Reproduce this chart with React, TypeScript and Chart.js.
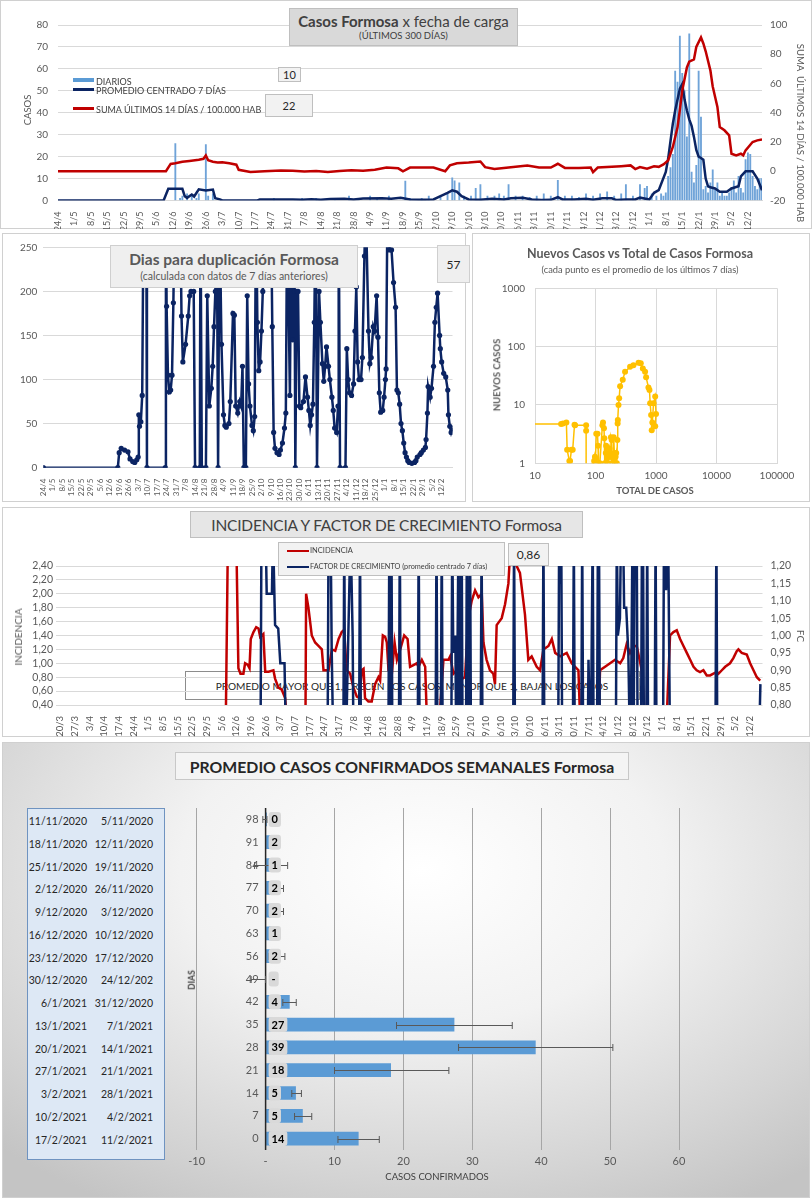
import React, { useEffect, useRef } from "react";
import { Chart, registerables } from "chart.js";
Chart.register(...registerables);

const FONT = "Lato, 'Open Sans', sans-serif";
Chart.defaults.font.family = FONT;

// ---------------- DATA ----------------
const weekLabels = ["24/4","1/5","8/5","15/5","22/5","29/5","5/6","12/6","19/6","26/6","3/7","10/7","17/7","24/7","31/7","7/8","14/8","21/8","28/8","4/9","11/9","18/9","25/9","2/10","9/10","16/10","23/10","30/10","6/11","13/11","20/11","27/11","4/12","11/12","18/12","25/12","1/1","8/1","15/1","22/1","29/1","5/2","12/2"];
const earlyLabels = ["20/3","27/3","3/4","10/4","17/4"];
const incidenceLabels = [...earlyLabels, ...weekLabels];

// top chart: [day since 24/4, value]
const dailyCases: [number, number][] = [[50,26],[52,1],[53,2],[55,3],[57,2],[59,1],[60,3],[63,25.5],[64,2],[66,3],[92,1],[104,1],[110,1],[118,1],[124,2],[128,1],[133,2],[136,1],[141,2],[148,8.8],[150,1],[155,1],[158,2],[163,2],[166,3],[168,10.3],[169,9],[171,8],[173,2],[176,2],[178,5.5],[180,7.3],[183,2],[186,2],[188,3],[190,2],[192,7.3],[195,2],[198,2],[201,1.5],[204,2],[207,3],[210,2],[213,9.2],[216,2],[219,2],[222,1.5],[225,3],[228,2],[231,3],[234,4],[237,2],[240,3],[242,7.3],[245,2],[248,7.3],[250,5.5],[251,6.5],[253,3],[255,2],[257,3],[258,2],[259,3.5],[260,11],[261,15],[262,21],[263,59],[264,54],[265,75],[266,58],[267,50],[268,29],[269,76],[270,13],[271,8],[272,16],[273,59],[274,38],[275,5],[276,6.5],[277,3.5],[278,8],[279,14],[280,5],[281,8],[282,2],[283,3.5],[284,2],[285,2],[286,3.5],[287,6],[288,9],[289,3.5],[290,11],[291,5.5],[292,3.5],[293,18.6],[294,21.7],[295,21],[296,11],[297,6.5],[298,5],[299,10],[300,10]];
const avg7: [number, number][] = [[0,0],[45,0],[47,5.3],[53,5.3],[54,2],[55,1.2],[57,2.7],[58,1.8],[60,5.1],[63,4.6],[66,5],[67,1],[69,0.5],[70,0],[85,0],[86,0.5],[100,0.5],[104,0.3],[108,0.6],[112,0.3],[116,0.7],[122,0.8],[126,0.5],[130,0.9],[138,1],[142,0.8],[146,1.2],[150,0.5],[155,0.3],[160,0.5],[163,2],[166,3.5],[168,4.6],[170,4],[172,2],[175,0.5],[180,0.3],[185,0.8],[190,0.5],[193,1],[198,1.2],[202,0.5],[206,0.2],[210,0.3],[213,1.5],[215,0.5],[220,0.5],[225,0.8],[228,0.3],[232,1],[236,1],[238,0.2],[242,0.5],[246,0.5],[248,1.3],[252,0.5],[254,3.5],[256,4.7],[259,13],[260,19],[261,27],[262,35],[263,41],[264,46],[265,51],[266,53],[267,46],[268,41],[269,37],[270,34],[271,29],[272,23],[273,20],[274,19.4],[275,18.6],[276,10],[277,6.5],[278,6],[280,5.5],[282,4],[285,4],[287,5.5],[290,6.5],[291,11],[293,13.3],[296,13.3],[298,10],[300,4.7]];
const sum14: [number, number][] = [[0,0],[46,0],[48,5],[50,5.5],[53,6.5],[56,7],[60,7.8],[62,8.5],[63,10.8],[64,7.5],[66,6.5],[68,6],[70,6.2],[73,5.5],[76,4.5],[77,1],[82,-0.5],[88,0],[95,0.5],[100,0.3],[105,-0.2],[110,0.2],[115,-0.5],[120,0.2],[125,0.6],[130,0.3],[135,1],[140,2.5],[145,2],[147,0],[150,2.5],[160,2.5],[165,0],[167,4],[170,5.5],[175,6],[180,6.7],[182,2.8],[186,1.5],[192,2.5],[200,4],[205,2.5],[210,2.5],[213,5.1],[216,2.3],[222,2.3],[227,2.5],[228,-0.6],[230,2.5],[240,3.5],[244,4],[246,1.5],[248,2.9],[251,1.8],[254,3.4],[256,3],[258,4.7],[260,7.4],[262,16.6],[264,30],[265,42],[266,55],[268,71],[269,75],[271,76.5],[272,85],[274,91.5],[275,87.4],[276,82],[278,69],[279,58],[281,44],[282,30.3],[284,28],[286,24.6],[287,12],[289,10.9],[291,12],[292,10.9],[293,14.3],[296,20],[298,21.1],[300,21.8]];

// doubling days: [day since 24/4, days] (values above 250 leave the chart)
const doublingDays: [number, number][] = [[0,0],[55,0],[56,17],[57.5,22],[60,20],[62.5,18],[64,10],[66,7],[67.5,6],[69,9],[70,12],[70.5,60],[71,47],[72,52],[73,82],[74,300],[76,300],[76.5,0],[90,0],[90.5,300],[91,183],[92,105],[93,86],[94,88],[95,105],[96,187],[97,300],[101,300],[102,172],[103,120],[105,140],[107,172],[108,195],[109,200],[111,200],[112,0],[115.5,0],[116,300],[117,0],[120,0],[121,195],[122.5,70],[124,90],[125,115],[126,160],[127,200],[128,300],[129,0],[130,300],[131.5,140],[133,60],[134,48],[135,46],[137,50],[138,75],[140,175],[141,173],[142,70],[143.5,62],[145,75],[146,70],[147,115],[148,0],[149.5,0],[150.5,195],[151.5,95],[152.5,70],[154,48],[155,42],[156,58],[157,300],[158,165],[159,110],[160,120],[161,155],[162,200],[163,300],[168,300],[169,160],[170,40],[171,22],[172.5,17],[174,15],[175,20],[176.5,28],[178,45],[179,62],[180,300],[182,82],[183,300],[184,145],[185,300],[185.5,200],[186,0],[187,200],[188,200],[189,70],[190,68],[192,75],[193.5,103],[195,80],[196,65],[197,48],[198,60],[199,72],[200,165],[201,300],[202,0],[203.5,200],[204.5,165],[206,118],[207,98],[208,115],[209,137],[210.5,115],[211.5,100],[213,80],[214,65],[215,45],[216.5,40],[217.5,70],[218,300],[219,0],[223,0],[224,135],[225,100],[226,85],[227.5,82],[229,95],[230,155],[231,205],[232,120],[233,100],[234.5,100],[235.5,125],[237,240],[238,300],[240,155],[241,118],[242,125],[243.5,160],[244.5,155],[246,195],[247,148],[248,85],[249,63],[250.5,65],[251.5,80],[252.5,100],[253,112],[254,300],[255.5,247],[257,247],[258.5,210],[260,182],[261,88],[262,85],[263,72],[264,50],[265,42],[266,28],[267,17],[268,12],[269,8],[270,6],[272,5],[274,6],[275,8],[276,12],[278,15],[279,17],[280.5,20],[282,23],[282.5,32],[283.5,62],[284,92],[285.5,80],[286.5,90],[288,115],[289,165],[290,182],[291,198],[292.5,150],[293,135],[294,120],[295.5,107],[297,103],[298.5,88],[299,60],[300,47],[301,40],[302,45],[303.5,57]];

// scatter: [total cases, new cases (7-day avg)]
const trajectory: [number, number][] = [[5,4.7],[27,4.7],[29,4.8],[33,5],[34,1.7],[37,1.1],[38,1.1],[40,1.7],[42,1.7],[45,4.6],[46,4.5],[70,4.5],[70,3.6],[70,0.5],[90,0.9],[95,1.1],[98,1.3],[100,1.2],[103,3.2],[108,3.2],[110,2],[112,1],[118,1],[130,4.5],[133,5],[138,4],[140,2.7],[142,1],[148,1.5],[150,2],[155,1.2],[160,1],[165,1.5],[170,1.8],[175,1.3],[180,2.8],[185,2.5],[190,1],[195,1.2],[200,2.8],[205,1.5],[210,1],[215,1.3],[220,1.5],[225,1],[230,2.5],[232,4.8],[234,5.5],[240,10],[246,13],[255,21],[282,27],[308,37],[373,45],[424,48],[514,53],[560,52],[606,42],[660,37],[686,30],[750,20],[780,18],[800,10.7],[830,6.7],[850,3.7],[870,5],[910,10.7],[970,13.9],[1000,7],[970,4.3]];

// incidence chart: [day since 20/3, value]
const incidence: [number, number][] = [[78,0.2],[79,0.2],[80,2.8],[84,2.8],[85,0.93],[86,0.85],[87.4,0.85],[88.2,1.0],[89.4,0.98],[90.3,0.93],[90.9,1.35],[92.2,1.45],[93.5,1.52],[94.6,1.5],[95.4,1.38],[96.2,1.4],[96.9,1.42],[97.8,0.88],[99.4,0.88],[101.7,0.9],[102.5,0.78],[104.1,0.65],[105.7,0.62],[107.3,0.5],[108.1,0.2],[117,0.2],[117.3,2.0],[118.4,1.8],[120,1.4],[121.6,1.3],[123.2,1.25],[124.8,1.2],[125.6,0.9],[128,0.9],[129.6,1.2],[131.2,1.18],[132.8,1.35],[134.3,1.45],[135.4,1.48],[136.7,0.9],[138.3,0.85],[139.9,0.65],[141.5,0.52],[142.7,0.5],[143.9,0.9],[144.7,0.92],[145.4,0.5],[147,0.45],[148.6,0.45],[150.2,0.7],[151.8,0.8],[152.6,0.75],[153.9,1.4],[155,1.38],[155.8,1.3],[156.6,0.9],[158.2,0.85],[159.5,1.3],[160.6,1.05],[162.2,1.2],[164.1,1.4],[165.7,1.35],[166.9,0.95],[168.5,0.975],[170.1,1.0],[170.9,0.95],[172.5,1.05],[174.1,0.95],[174.9,0.2],[180.9,0.2],[182.8,1.05],[185.2,1.05],[186,1.1],[187.6,0.85],[189.2,0.9],[190,0.75],[193.1,0.8],[194.7,1.65],[196.3,1.9],[197.9,2.05],[199.5,1.95],[201.1,2.0],[201.9,1.3],[203.4,1.05],[205,0.9],[206.6,0.85],[207.4,0.7],[208.2,1.55],[210.6,1.65],[212.2,1.85],[213.8,2.15],[214.6,2.6],[219.3,2.3],[221.7,1.7],[223.3,1.05],[224.9,1.1],[227.3,0.95],[228.9,0.9],[230.5,1.2],[232.9,1.25],[234.5,1.35],[236.1,1.15],[238.5,1.1],[241.6,1.15],[244,1.0],[245.6,0.95],[247.2,0.9],[248,0.2],[256.8,0.2],[257.5,0.9],[259.9,0.95],[262.3,1.0],[264.7,1.05],[267.1,1.0],[268.6,1.075],[270.2,1.275],[271.8,1.15],[273.4,1.25],[275,1.25],[277.4,0.9],[279,0.2],[289.3,0.2],[290.9,1.4],[292.5,1.45],[294.1,1.475],[295.7,1.35],[297.3,1.25],[298.9,1.15],[300.5,1.05],[302.1,0.95],[303.6,0.9],[305.2,0.875],[306.8,0.9],[308.4,0.825],[310,0.825],[311.6,0.85],[313.2,0.875],[314,0.85],[315.6,0.9],[317.2,0.95],[319.5,1.0],[321.1,1.075],[322.7,1.175],[323.5,1.2],[325.1,1.15],[327.5,1.125],[329.1,1.0],[330.7,0.9],[332.3,0.8],[333.9,0.75]];
const growthFactor: [number, number][] = [[0,0.6],[95.5,0.6],[96,1.3],[98,1.3],[98.5,1.12],[101,1.12],[101.5,1.3],[102.5,1.03],[104,1.02],[105,0.92],[107,0.92],[108,0.6],[127.5,0.6],[128,1.3],[129,1.3],[129.5,0.96],[130.5,0.6],[135,0.6],[135.5,1.3],[136,0.6],[138.5,1.3],[139.5,1.0],[140,0.6],[142.5,0.6],[143,1.3],[143.5,0.6],[156.5,0.6],[157,1.3],[157.5,0.6],[158,1.3],[158.5,0.6],[161.5,0.6],[162,1.3],[162.5,0.6],[170.5,0.6],[171,1.3],[171.5,0.6],[179,0.6],[179.5,1.3],[180,0.6],[181.5,0.6],[182,1.3],[182.5,0.6],[186.5,0.6],[187,1.3],[187.5,0.95],[188.5,1.0],[189,0.6],[190,1.3],[190.5,0.6],[191.5,1.3],[192,0.6],[193.5,0.6],[194,1.3],[194.5,0.6],[195.5,1.3],[196,0.6],[200.5,0.6],[201,1.3],[201.5,0.6],[216,0.6],[216.5,1.3],[217,0.6],[230,0.6],[230.5,1.3],[231,0.6],[237.5,0.6],[238,1.3],[238.5,1.15],[239,1.3],[239.5,0.6],[244.5,0.6],[245,1.3],[245.5,0.6],[248.5,0.6],[249,1.3],[249.5,0.6],[251.5,0.6],[252,0.93],[253,0.6],[254,1.3],[254.5,0.6],[256,0.6],[256.5,1.3],[257,1.3],[257.5,0.6],[265,0.6],[265.5,1.3],[266,1.0],[267,1.05],[267.5,1.3],[268.5,1.3],[269,1.08],[270,1.08],[271,0.95],[272,0.6],[273,1.3],[273.5,0.6],[274,1.3],[275,1.3],[275.5,0.6],[277,0.6],[277.5,1.3],[278,1.3],[278.5,0.6],[279.5,0.6],[280,1.3],[280.5,0.6],[283.5,0.6],[284,1.3],[284.5,0.6],[287.5,0.6],[288,1.3],[289,1.13],[290,1.3],[291,0.6],[312.5,0.6],[313,1.3],[313.5,0.6],[333,0.6],[334,0.86]];

// weekly bars
const dayLabels = ["98","91","84","77","70","63","56","49","42","35","28","21","14","7","0"];
const weeklyAvg = [0.2,1.6,1.1,1.7,1.6,1.0,1.6,0,3.5,27.4,39.2,18.2,4.4,5.4,13.5];
const weeklyText = ["0","2","1","2","2","1","2","-","4","27","39","18","5","5","14"];
const errLow = [-0.4,1.6,-1.6,0.8,0.7,1.0,0.5,-2.1,2.5,19,28,10,3.8,4.2,10.5];
const errHigh = [0.2,1.6,3.2,2.6,2.6,1.0,2.8,0,4.45,35.8,50.4,26.6,5.2,6.7,16.5];
const weekEnd = ["11/11/2020","18/11/2020","25/11/2020","2/12/2020","9/12/2020","16/12/2020","23/12/2020","30/12/2020","6/1/2021","13/1/2021","20/1/2021","27/1/2021","3/2/2021","10/2/2021","17/2/2021"];
const weekStart = ["5/11/2020","12/11/2020","19/11/2020","26/11/2020","3/12/2020","10/12/2020","17/12/2020","24/12/202","31/12/2020","7/1/2021","14/1/2021","21/1/2021","28/1/2021","4/2/2021","11/2/2021"];

// ---------------- helpers ----------------
const xy = (a: [number, number][]) => a.map(([x, y]) => ({ x, y }));
const fix = (w?: number, h?: number) => (s: any) => {
  if (w !== undefined) s.width = w;
  if (h !== undefined) s.height = h;
  s.paddingTop = 0; s.paddingBottom = 0; s.paddingLeft = 0; s.paddingRight = 0;
};
const comma = (d: number) => (v: any) => Number(v).toFixed(d).replace(".", ",");
const NAVY = "#0b2463";
const RED = "#c00000";
const GRID = "#d9d9d9";
const TICK = "#595959";
const base = (pad: any) => ({
  responsive: false,
  animation: false as const,
  devicePixelRatio: 1,
  layout: { padding: pad },
  plugins: { legend: { display: false }, tooltip: { enabled: false } },
});
const weekTicks = (labels: string[], size: number, h: number) => ({
  afterBuildTicks: (s: any) => { s.ticks = labels.map((_, i) => ({ value: i * 7 })); },
  ticks: { autoSkip: false, maxRotation: 90, minRotation: 90, padding: 3, font: { size }, color: TICK,
    callback: (v: any) => labels[Math.round(Number(v) / 7)] ?? "" },
  afterFit: fix(undefined, h),
});

function ChartCanvas({ x, y, w, h, make }: { x: number; y: number; w: number; h: number; make: () => any }) {
  const ref = useRef<HTMLCanvasElement>(null);
  useEffect(() => {
    const c = new Chart(ref.current as HTMLCanvasElement, make());
    return () => c.destroy();
  }, []);
  return <canvas ref={ref} width={w} height={h} style={{ position: "absolute", left: x, top: y, width: w, height: h }} />;
}

const Panel = ({ x, y, w, h, bg = "#fff" }: any) => (
  <div style={{ position: "absolute", left: x, top: y, width: w, height: h, background: bg, boxShadow: "inset 0 0 0 1px #d0d0d0" }} />
);
const Box = ({ x, y, w, h, bg = "#ededed", border = "#bfbfbf", children, style }: any) => (
  <div style={{ position: "absolute", left: x, top: y, width: w, height: h, background: bg, border: `1px solid ${border}`, boxSizing: "border-box", display: "flex", flexDirection: "column", alignItems: "center", justifyContent: "center", whiteSpace: "nowrap", ...style }}>{children}</div>
);
const Txt = ({ x, y, children, rot = 0, style, anchor = "center" }: any) => (
  <div style={{ position: "absolute", left: x, top: y, whiteSpace: "nowrap", lineHeight: 1,
    transform: `translate(${anchor === "left" ? "0" : anchor === "right" ? "-100%" : "-50%"},-50%) rotate(${rot}deg)`, ...style }}>{children}</div>
);
const Swatch = ({ x, y, w, h, c }: any) => (
  <div style={{ position: "absolute", left: x, top: y - h / 2, width: w, height: h, background: c }} />
);

// ---------------- charts ----------------
const makeTop = () => ({
  type: "bar",
  data: {
    datasets: [
      { type: "line", data: xy(sum14), yAxisID: "y1", borderColor: RED, borderWidth: 2.5, pointRadius: 0, order: 1 },
      { type: "line", data: xy(avg7), yAxisID: "y", borderColor: NAVY, borderWidth: 2.5, pointRadius: 0, order: 2 },
      { type: "bar", data: xy(dailyCases), yAxisID: "y", backgroundColor: "#6fa3d8", barThickness: 1.2, order: 3 },
    ],
  },
  options: {
    ...base({ top: 25, left: 0, right: 0, bottom: 0 }),
    scales: {
      x: { type: "linear", min: 0, max: 300, offset: false, grid: { display: false, offset: false }, border: { color: GRID }, ...weekTicks(weekLabels, 9, 28.5) },
      y: { position: "left", min: 0, max: 80, ticks: { autoSkip: false, stepSize: 10, padding: 10, font: { size: 10 }, color: TICK }, grid: { color: GRID, drawTicks: false }, border: { display: false }, afterFit: fix(58) },
      y1: { position: "right", min: -20, max: 100, ticks: { autoSkip: false, stepSize: 20, padding: 8, font: { size: 10 }, color: TICK }, grid: { display: false, drawTicks: false }, border: { display: false }, afterFit: fix(50) },
    },
  },
});

const makeDoubling = () => ({
  type: "line",
  data: { datasets: [{ data: xy(doublingDays), borderColor: NAVY, backgroundColor: NAVY, borderWidth: 2.5, pointRadius: 2.6, pointBackgroundColor: NAVY, pointBorderWidth: 0 }] },
  options: {
    ...base({ top: 14.3, left: 0, right: 13.5, bottom: 0 }),
    scales: {
      x: { type: "linear", min: 0, max: 302, offset: false, grid: { display: false }, border: { color: GRID }, ...weekTicks(weekLabels, 8, 34.3) },
      y: { min: 0, max: 250, ticks: { autoSkip: false, stepSize: 50, padding: 6, font: { size: 10 }, color: TICK }, grid: { color: GRID, drawTicks: false }, border: { display: false }, afterFit: fix(41.3) },
    },
  },
});

const makeScatter = () => ({
  type: "scatter",
  data: { datasets: [{ data: xy(trajectory), showLine: true, borderColor: "#ffc000", backgroundColor: "#ffc000", borderWidth: 1.5, pointRadius: 3, pointBorderWidth: 0 }] },
  options: {
    ...base({ top: 55.3, left: 0, right: 33, bottom: 0 }),
    scales: {
      x: { type: "logarithmic", min: 10, max: 100000,
        afterBuildTicks: (s: any) => { s.ticks = [10, 100, 1000, 10000, 100000].map((value) => ({ value })); },
        ticks: { autoSkip: false, padding: 6, font: { size: 10 }, color: TICK, callback: (v: any) => String(v) },
        grid: { color: GRID, drawTicks: false }, border: { color: GRID }, afterFit: fix(undefined, 38.7) },
      y: { type: "logarithmic", min: 1, max: 1000,
        afterBuildTicks: (s: any) => { s.ticks = [1, 10, 100, 1000].map((value) => ({ value })); },
        ticks: { autoSkip: false, padding: 10, font: { size: 10 }, color: TICK, callback: (v: any) => String(v) },
        grid: { color: GRID, drawTicks: false }, border: { color: GRID }, afterFit: fix(63) },
    },
  },
});

const makeIncidence = () => ({
  type: "line",
  data: {
    datasets: [
      { data: xy(incidence), yAxisID: "y", borderColor: RED, borderWidth: 2.5, pointRadius: 0, order: 2 },
      { data: xy(growthFactor), yAxisID: "y1", borderColor: NAVY, borderWidth: 2.5, pointRadius: 0, order: 1 },
    ],
  },
  options: {
    ...base({ top: 59, left: 0, right: 0, bottom: 0 }),
    scales: {
      x: { type: "linear", min: -2, max: 335, offset: false, grid: { display: false }, border: { display: false }, ...weekTicks(incidenceLabels, 9.5, 32) },
      y: { position: "left", min: 0.4, max: 2.4, ticks: { autoSkip: false, stepSize: 0.2, padding: 3, font: { size: 10.5 }, color: TICK, callback: comma(2) }, grid: { color: GRID, drawTicks: false }, border: { display: false }, afterFit: fix(54) },
      y1: { position: "right", min: 0.8, max: 1.2, ticks: { autoSkip: false, stepSize: 0.05, padding: 8, font: { size: 10.5 }, color: TICK, callback: comma(2) }, grid: { display: false, drawTicks: false }, border: { display: false }, afterFit: fix(47.5) },
    },
  },
});

const weeklyDecor = {
  id: "weeklyDecor",
  afterDatasetsDraw(chart: any) {
    const { ctx, chartArea, scales } = chart;
    const xs = scales.x, ys = scales.y;
    const x0 = xs.getPixelForValue(0);
    ctx.save();
    ctx.font = `11px ${FONT}`;
    ctx.fillStyle = TICK;
    ctx.textAlign = "right";
    ctx.textBaseline = "middle";
    dayLabels.forEach((lab, i) => ctx.fillText(lab, x0 - 7, ys.getPixelForValue(i)));
    ctx.strokeStyle = "#262626";
    ctx.lineWidth = 1.5;
    ctx.beginPath(); ctx.moveTo(x0, chartArea.top); ctx.lineTo(x0, chartArea.bottom); ctx.stroke();
    ctx.strokeStyle = "#595959";
    ctx.lineWidth = 1;
    dayLabels.forEach((_, i) => {
      if (errLow[i] === errHigh[i]) return;
      const yy = Math.round(ys.getPixelForValue(i)) + 0.5;
      const a = xs.getPixelForValue(errLow[i]);
      const b = xs.getPixelForValue(errHigh[i]);
      ctx.beginPath(); ctx.moveTo(a, yy); ctx.lineTo(b, yy);
      ctx.moveTo(a, yy - 3.5); ctx.lineTo(a, yy + 3.5);
      ctx.moveTo(b, yy - 3.5); ctx.lineTo(b, yy + 3.5);
      ctx.stroke();
    });
    ctx.font = `bold 11px ${FONT}`;
    ctx.textAlign = "center";
    weeklyText.forEach((t, i) => {
      const yy = ys.getPixelForValue(i);
      const tw = ctx.measureText(t).width;
      const bw = tw + 6, bh = 15, bx = x0 + 3;
      ctx.fillStyle = "#d9d9d9";
      ctx.beginPath();
      (ctx as any).roundRect(bx, yy - bh / 2, bw, bh, 3);
      ctx.fill();
      ctx.fillStyle = "#000";
      ctx.fillText(t, bx + bw / 2, yy + 0.5);
    });
    ctx.restore();
  },
};

const makeWeekly = () => ({
  type: "bar",
  data: { labels: dayLabels, datasets: [{ data: weeklyAvg, backgroundColor: "#5b9bd5", barPercentage: 0.6, categoryPercentage: 1 }] },
  options: {
    ...base({ top: 66, left: 194.7, right: 131, bottom: 0 }),
    indexAxis: "y",
    scales: {
      x: { type: "linear", min: -10, max: 60, ticks: { stepSize: 10, padding: 5, font: { size: 11 }, color: TICK, callback: (v: any) => (Number(v) === 0 ? "-" : String(v)) },
        grid: { color: "#a6a6a6", drawTicks: false }, border: { display: false }, afterFit: fix(undefined, 48) },
      y: { type: "category", display: false },
    },
  },
  plugins: [weeklyDecor],
});

// ---------------- app ----------------
export default function App() {
  const lg = { fontSize: 9, color: "#404040" };
  return (
    <div style={{ position: "absolute", left: 0, top: 0, width: 812, height: 1200, background: "#fff", fontFamily: FONT, overflow: "hidden" }}>
      <Panel x={0} y={0} w={812} h={229} />
      <Panel x={2} y={233} w={464} h={269} />
      <Panel x={472} y={233} w={338} h={269} />
      <Panel x={2} y={507} w={808} h={230} />
      <Panel x={2} y={742} w={808} h={456} bg="radial-gradient(ellipse 75% 85% at 52% 28%, #ffffff 0%, #f2f2f2 40%, #d4d4d4 80%, #c4c4c4 100%)" />

      {/* under-canvas annotation of incidence chart */}
      <div style={{ position: "absolute", left: 185, top: 671, width: 455, height: 29, border: "1px solid #8c8c8c", boxSizing: "border-box" }} />
      <Txt x={412} y={686} style={{ fontSize: 10.1, color: "#262626" }}>PROMEDIO MAYOR QUE 1, CRECEN LOS CASOS, MENOR QUE 1, BAJAN LOS CASOS</Txt>

      <ChartCanvas x={0} y={0} w={812} h={229} make={makeTop} />
      <ChartCanvas x={2} y={233} w={464} h={269} make={makeDoubling} />
      <ChartCanvas x={472} y={233} w={338} h={269} make={makeScatter} />
      <ChartCanvas x={2} y={507} w={808} h={230} make={makeIncidence} />
      <ChartCanvas x={2} y={742} w={808} h={456} make={makeWeekly} />

      {/* top chart overlays */}
      <Box x={289} y={8} w={229} h={38} bg="#d9d9d9">
        <div style={{ fontSize: 15, color: "#404040", lineHeight: "17px" }}><b>Casos Formosa</b> x fecha de carga</div>
        <div style={{ fontSize: 9.5, color: "#404040", lineHeight: "12px" }}>(ÚLTIMOS 300 DÍAS)</div>
      </Box>
      <Swatch x={73} y={80} w={21} h={4} c="#5b9bd5" />
      <Txt x={96} y={80.5} anchor="left" style={lg}>DIARIOS</Txt>
      <Swatch x={73} y={89.5} w={21} h={2.5} c={NAVY} />
      <Txt x={96} y={89.5} anchor="left" style={lg}>PROMEDIO CENTRADO 7 DÍAS</Txt>
      <Swatch x={73} y={108.5} w={21} h={2.5} c={RED} />
      <Txt x={96} y={108.5} anchor="left" style={lg}>SUMA ÚLTIMOS 14 DÍAS / 100.000 HAB</Txt>
      <Box x={278} y={67} w={23} h={15} bg="#f2f2f2"><span style={{ fontSize: 11, color: "#262626" }}>10</span></Box>
      <Box x={265} y={94} w={48} h={23} bg="#f2f2f2"><span style={{ fontSize: 11, color: "#262626" }}>22</span></Box>
      <Txt x={28} y={110} rot={-90} style={{ fontSize: 9.5, color: TICK }}>CASOS</Txt>
      <Txt x={800} y={133} rot={90} style={{ fontSize: 9.6, color: TICK }}>SUMA&nbsp; ÚLTIMOS 14 DÍAS / 100.000 HAB</Txt>

      {/* doubling overlays */}
      <Box x={110} y={245} w={248} h={43} bg="#efefef" border="#cfcfcf">
        <div style={{ fontSize: 15.5, fontWeight: 700, color: "#595959", lineHeight: "19px" }}>Dias para duplicación Formosa</div>
        <div style={{ fontSize: 10.5, color: "#595959", lineHeight: "14px" }}>(calculada con datos de 7 días anteriores)</div>
      </Box>
      <Box x={437} y={245} w={33} h={38} bg="#efefef" border="#cfcfcf"><span style={{ fontSize: 12, color: "#262626" }}>57</span></Box>

      {/* scatter overlays */}
      <Txt x={640} y={254} style={{ fontSize: 12.5, fontWeight: 700, color: "#595959" }}>Nuevos Casos vs Total de Casos Formosa</Txt>
      <Txt x={640} y={270} style={{ fontSize: 9.3, color: "#595959" }}>(cada punto es el promedio de los últimos 7 días)</Txt>
      <Txt x={497} y={375} rot={-90} style={{ fontSize: 9.5, fontWeight: 700, color: "#595959" }}>NUEVOS CASOS</Txt>
      <Txt x={655} y={491} style={{ fontSize: 9.5, fontWeight: 700, color: "#595959" }}>TOTAL DE CASOS</Txt>

      {/* incidence overlays */}
      <Box x={190} y={511} w={393} h={27} bg="#e6e6e6"><span style={{ fontSize: 15.5, color: "#404040", letterSpacing: -0.2 }}>INCIDENCIA Y FACTOR DE CRECIMIENTO Formosa</span></Box>
      <Box x={278} y={542} w={227} h={34} bg="#f2f2f2" />
      <Swatch x={287} y={551} w={22} h={2.5} c={RED} />
      <Txt x={310} y={551} anchor="left" style={{ fontSize: 7.5, color: "#404040" }}>INCIDENCIA</Txt>
      <Swatch x={287} y={567} w={22} h={2.5} c={NAVY} />
      <Txt x={310} y={567} anchor="left" style={{ fontSize: 7.3, color: "#404040" }}>FACTOR DE CRECIMIENTO (promedio centrado 7 días)</Txt>
      <Box x={508} y={543} w={41} h={23} bg="#f2f2f2"><span style={{ fontSize: 12, color: "#262626" }}>0,86</span></Box>
      <Txt x={18} y={637} rot={-90} style={{ fontSize: 10, color: TICK }}>INCIDENCIA</Txt>
      <Txt x={801} y={636} rot={90} style={{ fontSize: 10, color: TICK }}>FC</Txt>

      {/* weekly overlays */}
      <Box x={175} y={752} w={454} h={28} bg="#f4f4f4" border="#c8c8c8"><span style={{ fontSize: 15.8, fontWeight: 700, color: "#262626" }}>PROMEDIO CASOS CONFIRMADOS SEMANALES Formosa</span></Box>
      <div style={{ position: "absolute", left: 27, top: 808, width: 138, height: 352, background: "#dde8f5", border: "1px solid #6f93c0", boxSizing: "border-box" }} />
      {weekEnd.map((t, i) => (
        <Txt key={"e" + i} x={87} y={821 + i * 22.75} anchor="right" style={{ fontSize: 10.5, color: "#262626" }}>{t}</Txt>
      ))}
      {weekStart.map((t, i) => (
        <Txt key={"s" + i} x={153} y={821 + i * 22.75} anchor="right" style={{ fontSize: 10.5, color: "#262626" }}>{t}</Txt>
      ))}
      <Txt x={192} y={980} rot={-90} style={{ fontSize: 8.5, fontWeight: 700, color: "#404040" }}>DIAS</Txt>
      <Txt x={437} y={1177} style={{ fontSize: 9.5, color: "#404040" }}>CASOS CONFIRMADOS</Txt>
    </div>
  );
}
